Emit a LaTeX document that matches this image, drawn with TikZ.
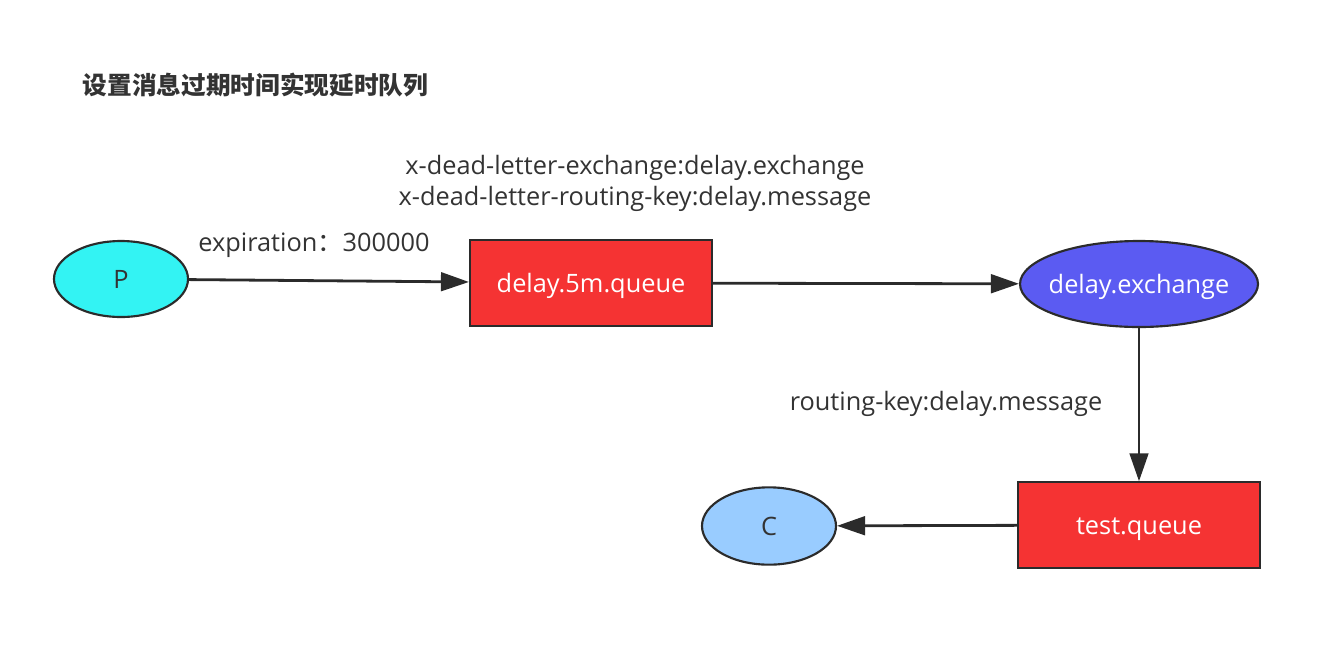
\documentclass[tikz,border=0pt]{standalone}
\usepackage{fontspec}
\setmainfont{Open Sans}
\newfontfamily\cjk{Noto Sans CJK SC}
\usetikzlibrary{shapes.geometric,arrows.meta}
\definecolor{pfill}{HTML}{33F3F3}
\definecolor{qfill}{HTML}{F53333}
\definecolor{xfill}{HTML}{5B5BF2}
\definecolor{cfill}{HTML}{99CCFF}
\definecolor{edge}{HTML}{2B2B2B}
\definecolor{txt}{HTML}{333333}
\newcommand{\lowtxt}[1]{\raisebox{-7pt}[0pt][0pt]{\makebox[0pt]{#1}}}
\begin{document}
\begin{tikzpicture}[x=0.75pt,y=-0.75pt,
  every node/.style={font=\fontsize{19}{23}\selectfont},
  oval/.style={ellipse,draw=edge,line width=1.6pt,inner sep=0pt},
  queuebox/.style={rectangle,draw=edge,line width=1.6pt,fill=qfill,inner sep=0pt,
     minimum width=181.5pt,minimum height=64pt,text=white},
  conn/.style={draw=edge,line width=2.1pt,-{Triangle[length=21pt,width=14pt]}},
  lbl/.style={text=txt,align=center}]
\useasboundingbox (0,0) rectangle (1330,647);
\node[anchor=west,font=\cjk\bfseries\fontsize{18.5}{20}\selectfont,text=txt] (title) at (78,85) {设置消息过期时间实现延时队列};
\node[oval,fill=pfill,minimum width=100.5pt,minimum height=57pt,text=txt] (P) at (121,279) {\lowtxt{P}};
\node[queuebox] (dq) at (591,283) {\lowtxt{delay.5m.queue}};
\node[oval,fill=xfill,minimum width=178.5pt,minimum height=64.5pt,text=white] (dx) at (1139,284) {\lowtxt{delay.exchange}};
\node[queuebox] (tq) at (1139,525) {\lowtxt{test.queue}};
\node[oval,fill=cfill,minimum width=100.5pt,minimum height=58pt,text=txt] (C) at (769,526) {\lowtxt{C}};
\draw[conn] (P) -- (dq);
\draw[conn] (dq) -- (dx);
\draw[conn] (dx) -- (tq);
\draw[conn] (tq) -- (C);
\node[lbl] (l1) at (314,245) {expiration{\cjk ：}300000};
\node[lbl,align=center,font=\fontsize{19}{23.25}\selectfont] (l2) at (635,183) {x-dead-letter-exchange:delay.exchange\\x-dead-letter-routing-key:delay.message};
\node[lbl] (l3) at (946,404) {routing-key:delay.message};
\end{tikzpicture}
\end{document}
